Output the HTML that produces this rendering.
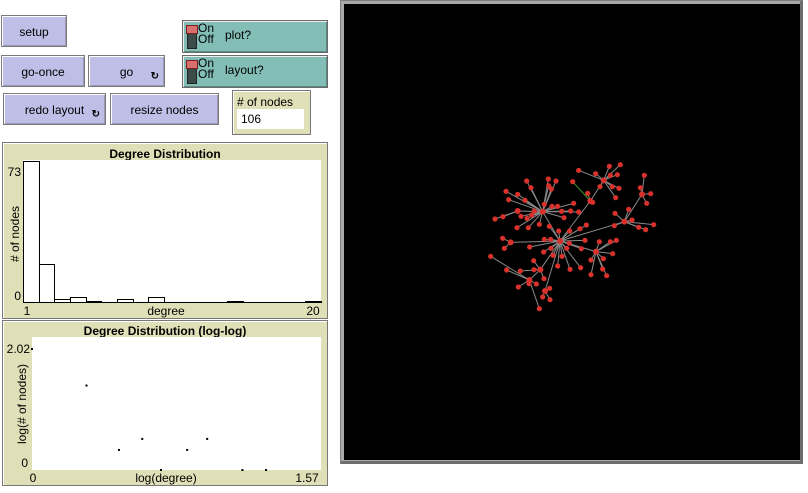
<!DOCTYPE html>
<html><head><meta charset="utf-8"><style>
body{margin:0;width:808px;height:493px;background:#fff;position:relative;overflow:hidden;font-family:"Liberation Sans",sans-serif;font-size:12px;}
.btn{position:absolute;background:#bebee6;border:1px solid #7a7a7a;box-shadow:inset 1px 1px 0 #fff,inset -1px -1px 0 #9a9ab8;box-sizing:border-box;display:flex;align-items:center;justify-content:center;color:#000;font-size:12px;padding-top:2px}
.forever{position:absolute;right:5px;bottom:4px;font-size:10px;font-weight:bold}
.sw{position:absolute;background:#82beb5;border:1px solid #6a6a6a;box-shadow:inset 1px 1px 0 #eee,inset -1px -1px 0 #5a8a84;box-sizing:border-box}
.knob{position:absolute;left:4px;top:4px;width:8px;height:22px;background:#3b4c48;border:1px solid #222}
.knob i{position:absolute;left:-2px;top:-1px;width:12px;height:9px;background:#d9706e;border:1px solid #7a2020;box-sizing:border-box}
.onoff{position:absolute;left:15px;top:2px;font-size:12px;line-height:11px}
.swl{position:absolute;left:42px;top:7px}
.panel{position:absolute;background:#e0e0b8;border:1px solid #777;box-shadow:inset 1px 1px 0 #fff;box-sizing:border-box}
.ttl{position:absolute;left:0;right:0;text-align:center;font-weight:bold;font-size:12px}
.abs{position:absolute}
</style></head><body>
<div class="btn" style="left:1px;top:15px;width:66px;height:32px">setup</div>
<div class="btn" style="left:1px;top:55px;width:84px;height:32px">go-once</div>
<div class="btn" style="left:88px;top:55px;width:77px;height:32px">go<span class="forever">↻</span></div>
<div class="btn" style="left:3px;top:93px;width:103px;height:32px">redo layout<span class="forever">↻</span></div>
<div class="btn" style="left:110px;top:93px;width:109px;height:32px">resize nodes</div>
<div class="sw" style="left:182px;top:20px;width:146px;height:33px"><div class="knob"><i></i></div><div class="onoff">On<br>Off</div><div class="swl">plot?</div></div>
<div class="sw" style="left:182px;top:55px;width:146px;height:33px"><div class="knob"><i></i></div><div class="onoff">On<br>Off</div><div class="swl">layout?</div></div>
<div class="panel" style="left:232px;top:90px;width:79px;height:45px">
 <div class="abs" style="left:4px;top:4px">#&nbsp;of nodes</div>
 <div class="abs" style="left:4px;top:18px;width:67px;height:20px;background:#fff;padding-left:4px;box-sizing:border-box;line-height:20px">106</div>
</div>

<div class="panel" style="left:2px;top:142px;width:326px;height:177px">
 <div class="ttl" style="top:4px">Degree Distribution</div>
</div>
<div class="panel" style="left:2px;top:320px;width:326px;height:166px">
 <div class="ttl" style="top:3px">Degree Distribution (log-log)</div>
</div>
<svg class="abs" style="left:0;top:0" width="808" height="493" id="charts" font-family="Liberation Sans, sans-serif" font-size="12"></svg>

<div class="abs" style="left:340px;top:0;width:463px;height:464px;background:#a8a8a8;border-left:1px solid #808080;border-top:1px solid #808080;box-sizing:border-box">
 <div class="abs" style="right:0;bottom:0;width:3px;height:100%;background:#6e6e6e"></div>
 <div class="abs" style="right:0;bottom:0;width:100%;height:3px;background:#6e6e6e"></div>
 <svg class="abs" style="left:3px;top:3px;background:#000" width="456" height="456" id="world"></svg>
</div>

<script>
// Histogram data
const histBins=[1,2,3,4,5,6,7,8,9,10,11,12,13,14,15,16,17,18,19];
const histCounts=[73,20,2,3,1,0,2,0,3,0,0,0,0,1,0,0,0,0,1];
const histXTicks=["1","20"];
const histYTicks=["0","73"];
// Log-log data
const logX=[0,0.297,0.474,0.601,0.703,0.846,0.955,1.147,1.276];
const logY=[2.02,1.41,0.335,0.519,0,0.335,0.519,0,0];
const logXTicks=["0","1.57"];
const logYTicks=["0","2.02"];

const NS="http://www.w3.org/2000/svg";
const svg=document.getElementById('charts');
function mk(t,a,p){const e=document.createElementNS(NS,t);for(const k in a)e.setAttribute(k,a[k]);(p||svg).appendChild(e);return e;}
function txt(x,y,s,anchor,rot){const e=mk('text',{x:x,y:y,'text-anchor':anchor||'middle'});if(rot)e.setAttribute('transform','rotate(-90 '+x+' '+y+')');e.textContent=s;return e;}

// histogram
const H={x0:23,x1:321,y0:303,y1:160,xmin:1,xmax:20,ymax:73};
const hx=v=>H.x0+(v-H.xmin)/(H.xmax-H.xmin)*(H.x1-H.x0);
const hy=v=>H.y0-v/H.ymax*(H.y0-H.y1-1);
let bg=mk('rect',{x:H.x0,y:H.y1,width:H.x1-H.x0,height:H.y0-H.y1,fill:'#fff'});


let base=mk('line',{x1:H.x0,y1:H.y0-0.5,x2:H.x1,y2:H.y0-0.5,stroke:'#000','stroke-width':1});


histBins.forEach((b,i)=>{
 const r=mk('rect',{x:Math.round(hx(b))+0.5,y:Math.round(hy(histCounts[i]))+0.5,width:Math.round(hx(b+1))-Math.round(hx(b)),height:Math.max(0,Math.round(H.y0-hy(histCounts[i]))-1),fill:'#fff',stroke:'#000','stroke-width':1});
 
 
});
let t;
t=txt(H.x0-2,176,histYTicks[1],'end');
t=txt(H.x0-2,300,histYTicks[0],'end');
t=txt(H.x0+4,315,histXTicks[0],'middle');
t=txt(H.x1-8,315,histXTicks[1],'middle');
t=txt(166,315,'degree');
t=txt(19,234,'# of nodes','middle',true);

// log-log
const L={x0:32,x1:321,y0:470,y1:337,xmax:1.57,ymax:2.02,top:349};
const lx=v=>L.x0+v/L.xmax*(L.x1-L.x0-1);
const ly=v=>L.y0-v/L.ymax*(L.y0-L.top);
bg=mk('rect',{x:L.x0,y:L.y1,width:L.x1-L.x0,height:L.y0-L.y1,fill:'#fff'});


logX.forEach((v,i)=>{
 const p=mk('rect',{x:lx(v)-1,y:ly(logY[i])-1,width:2,height:2,fill:'#000'});
 
 
});
t=txt(L.x0-2,353,logYTicks[1],'end');
t=txt(L.x0-4,467,logYTicks[0],'end');
t=txt(33,482,logXTicks[0],'middle');
t=txt(307,482,logXTicks[1],'middle');
t=txt(166,482,'log(degree)');
t=txt(26,404,'log(# of nodes)','middle',true);

// network (zoom coords -> page coords)
const hubs={A:[237,270],B:[185,182],C:[368,88],D:[430,212],E:[345,302],F:[145,387],G:[483,130],P:[328,150],Q:[110,180],R:[178,356],S:[192,420],T:[89,274]};
const hubEdges=[['A','B'],['A','E'],['A','D'],['A','P'],['A','R'],['A','S'],['A','T'],['B','Q'],['C','P'],['D','G'],['F','R']];
const leaves={
A:[[190,265],[209,265],[233,240],[266,240],[265,277],[257,292],[210,292],[188,303],[216,313],[243,316],[230,345],[267,355],[299,350],[301,293],[312,268],[297,233],[316,222],[146,288],[205,226]],
B:[[137,90],[150,110],[202,84],[225,90],[203,104],[211,114],[190,160],[213,166],[230,166],[242,181],[269,180],[293,183],[278,157],[249,200],[175,220],[142,230],[108,230],[120,196],[152,192],[138,202],[160,180],[132,148],[110,130],[75,121],[83,146]],
Q:[[66,197],[42,204]],
C:[[293,58],[344,68],[385,46],[418,41],[388,73],[409,71],[394,107],[414,112],[404,140],[357,107]],
P:[[320,127],[335,154]],
D:[[402,187],[443,175],[453,207],[518,221],[473,229],[494,236],[400,224]],
G:[[490,73],[478,110],[509,128],[497,157]],
E:[[355,272],[388,272],[406,268],[395,308],[367,323],[330,327],[365,354],[377,374],[330,371]],
R:[[158,329],[159,356],[118,360],[189,383]],
F:[[77,357],[29,316],[112,408],[144,398],[166,399],[175,473]],
S:[[206,412],[185,438],[207,446]],
T:[[65,262],[70,292]]
};
const W=document.getElementById('world');
const wx=z=>480+z/3-343, wy=z=>150+z/3-3;
hubEdges.forEach(e=>{const a=hubs[e[0]],b=hubs[e[1]];
 const l=mk('line',{x1:wx(a[0]),y1:wy(a[1]),x2:wx(b[0]),y2:wy(b[1]),stroke:'#8a8a8a','stroke-width':1},W);
 
 
});
for(const k in leaves){const h=hubs[k];leaves[k].forEach(p=>{
 const l=mk('line',{x1:wx(h[0]),y1:wy(h[1]),x2:wx(p[0]),y2:wy(p[1]),stroke:'#8a8a8a','stroke-width':1},W);
 
 
});}
const g=mk('line',{x1:wx(275),y1:wy(92),x2:wx(328),y2:wy(150),stroke:'#3a9a2a','stroke-width':1},W);


let n=mk('circle',{cx:wx(275),cy:wy(92),r:2.6,fill:'#d9312b'},W);


for(const k in leaves){leaves[k].forEach(p=>{
 const c=mk('circle',{cx:wx(p[0]),cy:wy(p[1]),r:2.6,fill:'#d9312b'},W);
 
 
});}
for(const k in hubs){const h=hubs[k];
 const c=mk('circle',{cx:wx(h[0]),cy:wy(h[1]),r:3,fill:'#d9312b'},W);
 
 
}
</script>
</body></html>
